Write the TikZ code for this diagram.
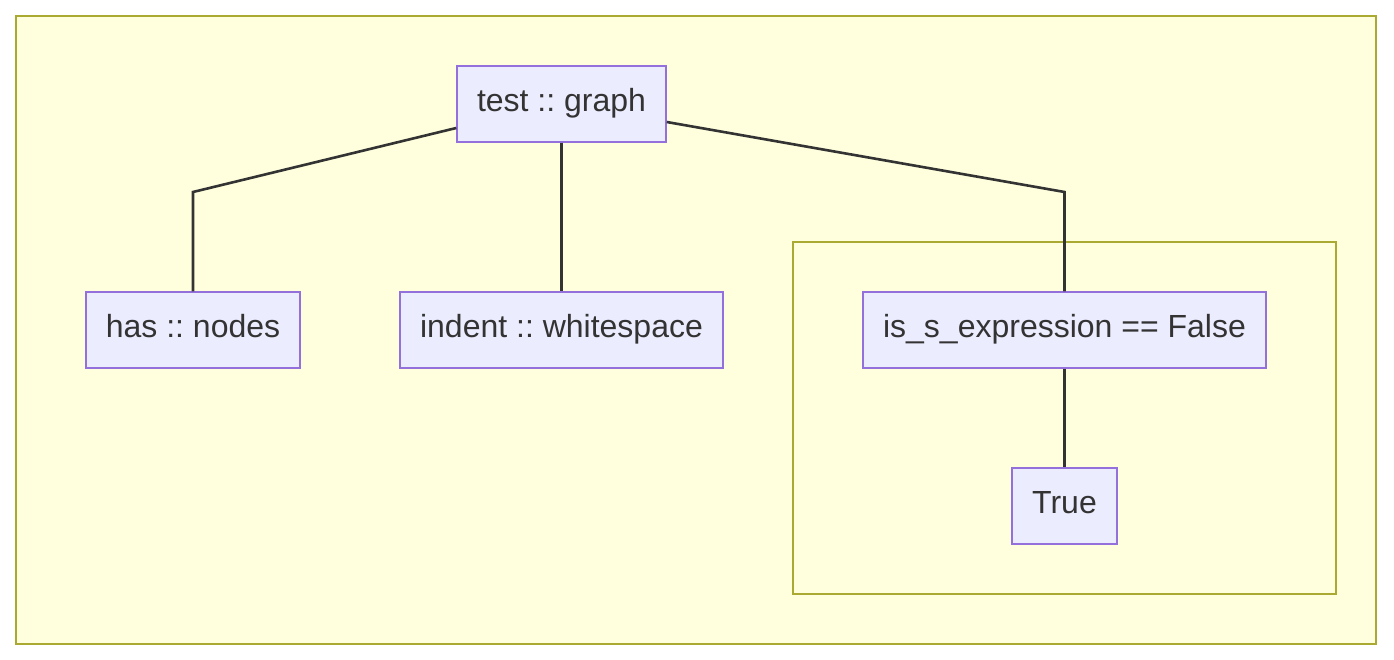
\documentclass[tikz,border=0pt]{standalone}
\usepackage{fontspec}
\setmainfont{Liberation Sans}
\frenchspacing
\definecolor{bgfill}{HTML}{FFFFDE}
\definecolor{bgline}{HTML}{AAAA33}
\definecolor{nfill}{HTML}{ECECFF}
\definecolor{nline}{HTML}{9370DB}
\definecolor{txt}{HTML}{333333}
\begin{document}
\begin{tikzpicture}[x=1pt,y=-1pt,
  box/.style={draw=nline,fill=nfill,line width=1.5pt,inner sep=0pt,
    minimum height=76pt,text=txt,text height=22pt,text depth=7pt,
    font=\fontsize{32}{38}\selectfont},
  conn/.style={draw=txt,line width=2.6pt},
  cluster/.style={draw=bgline,fill=bgfill,line width=1.5pt}]
\useasboundingbox (0,0) rectangle (1394,660);
\fill[white] (0,0) rectangle (1394,660);
\draw[cluster] (16,16) rectangle (1376,644);
\draw[cluster] (793,242) rectangle (1336,594);
\node[box,minimum width=209pt] (test) at (561.5,104) {test :: graph};
\node[box,minimum width=214pt] (has) at (193,330) {has :: nodes};
\node[box,minimum width=323pt] (indent) at (561.5,330) {indent :: whitespace};
\node[box,minimum width=403pt] (iss) at (1064.5,330) {is\_s\_expression == False};
\node[box,minimum width=105pt] (true) at (1064.5,506) {True};
\coordinate (b1) at (193,192);
\coordinate (b2) at (1064.5,192);
\draw[conn,line join=miter] (test.west |- 0,128) -- (b1) -- (has.north);
\draw[conn] (test.south) -- (indent.north);
\draw[conn,line join=miter] (test.east |- 0,122) -- (b2) -- (iss.north);
\draw[conn] (iss.south) -- (true.north);
\end{tikzpicture}
\end{document}
